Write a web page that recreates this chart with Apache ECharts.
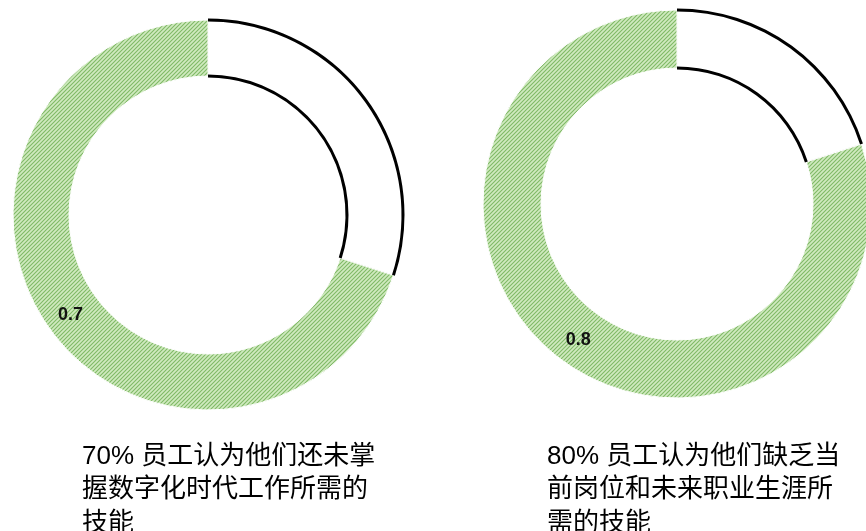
<!DOCTYPE html>
<html>
<head>
<meta charset="utf-8">
<script src="https://cdn.jsdelivr.net/npm/echarts@6/dist/echarts.min.js"></script>
<style>
html,body{margin:0;padding:0;background:#fff;}
#main{width:866px;height:531px;}
</style>
</head>
<body>
<div id="main"></div>
<script>
// ---- data ----
const categories = ['其他', '认为缺乏所需技能'];
const leftValues = [0.3, 0.7];
const rightValues = [0.2, 0.8];
const captions = [
  '70% 员工认为他们还未掌\n握数字化时代工作所需的\n技能',
  '80% 员工认为他们缺乏当\n前岗位和未来职业生涯所\n需的技能'
];

// ---- hatch pattern ----
function makeHatch() {
  const c = document.createElement('canvas');
  const s = 4;
  c.width = s; c.height = s;
  const ctx = c.getContext('2d');
  ctx.fillStyle = '#d0eabf';
  ctx.fillRect(0, 0, s, s);
  ctx.strokeStyle = '#7fb966';
  ctx.lineWidth = 1.1;
  ctx.beginPath();
  ctx.moveTo(0, s); ctx.lineTo(s, 0);
  ctx.moveTo(-1, 1); ctx.lineTo(1, -1);
  ctx.moveTo(s - 1, s + 1); ctx.lineTo(s + 1, s - 1);
  ctx.stroke();
  return c;
}
const hatch = { image: makeHatch(), repeat: 'repeat' };

const donuts = [
  { values: leftValues, center: [208, 215], R: 195, r: 139 },
  { values: rightValues, center: [677, 204], R: 194, r: 136 }
];

const series = [];
donuts.forEach(function (d) {
  series.push({
    type: 'pie',
    center: d.center,
    radius: [d.r, d.R],
    startAngle: 90,
    clockwise: true,
    silent: true,
    animation: false,
    labelLine: { show: false },
    data: categories.map(function (name, i) {
      const isGreen = i === 1;
      return {
        name: name,
        value: d.values[i],
        itemStyle: isGreen
          ? { color: hatch, borderColor: '#ffffff', borderWidth: 1 }
          : { color: '#ffffff', borderColor: '#d8d8d8', borderWidth: 0.5 },
        label: isGreen
          ? { show: true, position: 'inside', formatter: '{c}', color: '#111',
              fontSize: 18, fontWeight: 'bold', fontFamily: 'Liberation Sans, Arial, sans-serif' }
          : { show: false }
      };
    })
  });
  // black arcs on the outer and inner edge of the white slice
  [d.R, d.r].forEach(function (rad) {
    series.push({
      type: 'pie',
      center: d.center,
      radius: [rad - 1.5, rad + 1.5],
      startAngle: 90,
      clockwise: true,
      silent: true,
      animation: false,
      label: { show: false },
      labelLine: { show: false },
      data: categories.map(function (name, i) {
        return {
          name: name,
          value: d.values[i],
          itemStyle: { color: i === 0 ? '#000000' : 'rgba(0,0,0,0)', borderWidth: 0 }
        };
      })
    });
  });
});

const chart = echarts.init(document.getElementById('main'), null, { renderer: 'canvas' });
const capStyle = { fontSize: 26, fontWeight: 'normal', color: '#000000', lineHeight: 33.5,
                   fontFamily: 'Liberation Sans, Noto Sans CJK SC, sans-serif' };
chart.setOption({
  backgroundColor: '#ffffff',
  title: [
    { text: captions[0], left: 82, top: 440, padding: 0, textStyle: capStyle },
    { text: captions[1], left: 547, top: 440, padding: 0, textStyle: capStyle }
  ],
  series: series
});
</script>
</body>
</html>
